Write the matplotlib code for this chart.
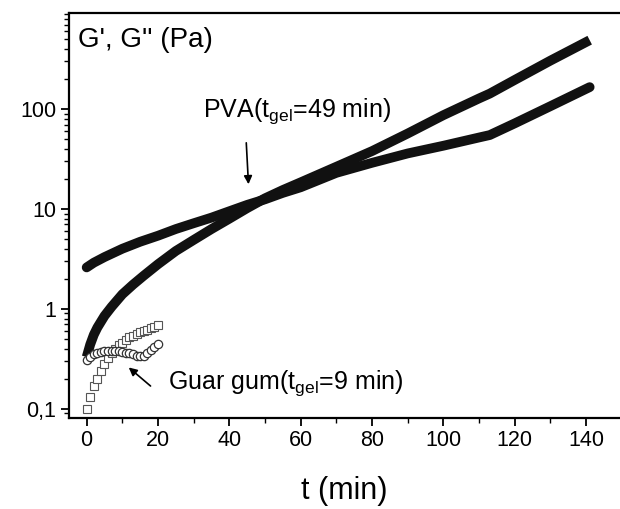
import matplotlib
matplotlib.use("Agg")
import matplotlib.pyplot as plt
from matplotlib.ticker import LogLocator, FixedLocator, FuncFormatter, MultipleLocator

plt.rcParams["font.family"] = ["Liberation Sans", "DejaVu Sans"]
plt.rcParams["mathtext.fontset"] = "custom"
plt.rcParams["mathtext.rm"] = "Liberation Sans"
plt.rcParams["mathtext.it"] = "Liberation Sans"

# PVA (t in min, moduli in Pa)
t_pva = [0, 1, 2, 3, 5, 7, 10, 13, 16, 20, 25, 30, 35, 40, 45, 50, 55, 60, 70, 80, 90, 100, 110, 113, 120, 130, 141]
g1_pva = [0.33, 0.44, 0.55, 0.65, 0.85, 1.05, 1.4, 1.75, 2.15, 2.8, 3.8, 4.9, 6.3, 8.0, 10.2, 12.8, 15.5, 18.5, 26.5, 38, 57, 87, 128, 143, 196, 306, 490]
t_pva2 = [0, 2, 5, 10, 15, 20, 25, 30, 35, 40, 45, 50, 55, 60, 70, 80, 90, 100, 110, 113, 120, 130, 141]
g2_pva = [2.6, 2.9, 3.3, 4.0, 4.7, 5.4, 6.3, 7.2, 8.2, 9.5, 11, 12.5, 14.5, 16.5, 23, 29, 36, 43, 52, 55, 72, 107, 166]

# Guar gum
t_guar = list(range(21))
g1_guar = [0.10, 0.13, 0.17, 0.20, 0.24, 0.28, 0.32, 0.36, 0.40, 0.43, 0.46,
           0.49, 0.52, 0.54, 0.56, 0.58, 0.60, 0.62, 0.64, 0.66, 0.69]
g2_guar = [0.31, 0.33, 0.35, 0.36, 0.37, 0.375, 0.38, 0.38, 0.38, 0.375, 0.37,
           0.365, 0.36, 0.35, 0.34, 0.335, 0.34, 0.36, 0.39, 0.42, 0.45]

y_ticks = [0.1, 1, 10, 100]
y_labels = ["0,1", "1", "10", "100"]

fig = plt.figure(figsize=(6.2, 5.09), dpi=100)
ax = fig.add_axes([0.111, 0.179, 0.889, 0.795])

# PVA: dense filled markers -> thick line
ax.plot(t_pva, g1_pva, color="#111111", lw=7, solid_capstyle="butt")
ax.plot(t_pva2, g2_pva, color="#111111", lw=7, solid_capstyle="round")

# guar gum: open markers
ax.plot(t_guar, g1_guar, ls="none", marker="s", ms=6, mfc="white", mec="#555555", mew=0.8)
ax.plot(t_guar, g2_guar, ls="none", marker="o", ms=6, mfc="white", mec="#333333", mew=0.9)

ax.set_yscale("log")
ax.set_xlim(-5, 149.5)
ax.set_ylim(0.081, 912)

ax.yaxis.set_major_locator(FixedLocator(y_ticks))
ax.yaxis.set_major_formatter(FuncFormatter(lambda v, p: y_labels[y_ticks.index(v)] if v in y_ticks else ""))
ax.yaxis.set_minor_locator(LogLocator(base=10, subs=range(2, 10)))
ax.yaxis.set_minor_formatter(FuncFormatter(lambda v, p: ""))
ax.xaxis.set_major_locator(MultipleLocator(20))
ax.xaxis.set_minor_locator(MultipleLocator(10))

ax.tick_params(which="major", direction="out", length=6, width=1.3, labelsize=15.5, pad=3)
ax.tick_params(which="minor", direction="out", length=3.5, width=1.0)

for s in ["left", "bottom", "top"]:
    ax.spines[s].set_linewidth(1.6)
ax.spines["right"].set_visible(False)

ax.set_xlabel("t (min)", fontsize=22, labelpad=18)
ax.text(0.016, 0.935, "G', G'' (Pa)", transform=ax.transAxes, fontsize=20, va="center", ha="left")

ax.annotate("", xy=(45.4, 16.6), xytext=(44.7, 49),
            arrowprops=dict(arrowstyle="-|>", color="black", lw=1.2, mutation_scale=12))
ax.text(32.5, 95, r"PVA(t$_{\mathrm{gel}}$=49 min)", fontsize=18, va="center", ha="left")

ax.annotate("", xy=(11.2, 0.27), xytext=(18.5, 0.162),
            arrowprops=dict(arrowstyle="-|>", color="black", lw=1.2, mutation_scale=12))
ax.text(22.7, 0.18, r"Guar gum(t$_{\mathrm{gel}}$=9 min)", fontsize=18, va="center", ha="left")

fig.savefig("out.png", dpi=100)
